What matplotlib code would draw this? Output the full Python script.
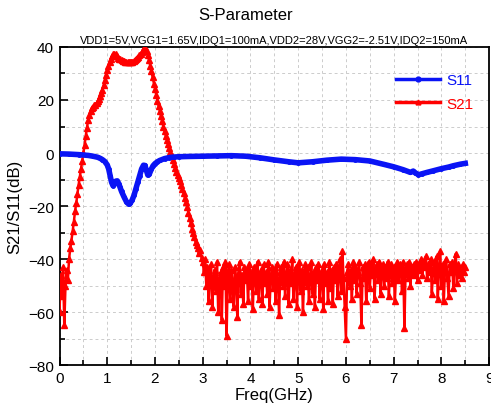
import matplotlib
matplotlib.use("Agg")
import matplotlib.pyplot as plt
import numpy as np
from matplotlib.lines import Line2D
from matplotlib.ticker import MultipleLocator

plt.rcParams["font.family"] = ["Liberation Sans", "DejaVu Sans"]

BLUE = "#0a14f5"
RED = "#ff0000"
GRID = "#cccccc"

TITLE = "S-Parameter"
SUBTITLE = "VDD1=5V,VGG1=1.65V,IDQ1=100mA,VDD2=28V,VGG2=-2.51V,IDQ2=150mA"

# S11: measured points (GHz, dB)
s11_freq = [0, 0.2, 0.4, 0.6, 0.7, 0.8, 0.85, 0.9, 0.95, 1.0, 1.03, 1.06, 1.09,
            1.12, 1.15, 1.18, 1.21, 1.24, 1.27, 1.3, 1.35, 1.4, 1.45, 1.48, 1.52,
            1.56, 1.6, 1.64, 1.68, 1.72, 1.76, 1.79, 1.82, 1.85, 1.88, 1.92, 1.96,
            2.0, 2.05, 2.1, 2.2, 2.3, 2.4, 2.5, 2.7, 3.0, 3.3, 3.6, 3.9, 4.2, 4.5,
            4.8, 5.0, 5.3, 5.6, 5.9, 6.2, 6.5, 6.8, 7.0, 7.2, 7.35, 7.41, 7.45,
            7.52, 7.6, 7.7, 7.83, 8.0, 8.15, 8.25, 8.4, 8.5]
s11_db = [-0.3, -0.4, -0.6, -0.9, -1.2, -1.6, -2.0, -2.5, -3.2, -4.5, -6, -8.5, -11,
          -12.3, -11.8, -10.6, -10.5, -11.5, -13, -14.5, -16.5, -18.3, -19.3, -19, -17.8,
          -16, -13.5, -11, -8.5, -6, -4.6, -4.7, -6.5, -8.3, -8, -6.2, -4.8,
          -4, -3.3, -2.8, -2.1, -1.7, -1.5, -1.4, -1.3, -1.2, -1.1, -1.0, -1.2, -1.8, -2.6,
          -3.3, -3.7, -3.3, -2.7, -2.3, -2.5, -3.0, -4.3, -5.2, -6.3, -7.3, -6.8, -7.4,
          -8.2, -7.8, -7.3, -6.7, -5.9, -5.3, -4.8, -4.2, -3.9]

# S21: sampled every 0.025 GHz from 0 GHz
S21_STEP = 0.025
s21_low = [-60, -46, -54, -43, -65, -50, -44, -48]                 # 0.000 - 0.175
s21_band = [                                                          # 0.200 - 2.975
    -40, -36, -33, -29.5, -26, -22, -19, -15.5, -12, -9, -6, -3,
    0, 3, 6.5, 9.5, 12.5, 14.5, 16, 17, 17.5, 18, 18.3, 18.8,
    19.5, 20.5, 21.5, 22.5, 23.8, 25.5, 27.5, 29.5, 31.3, 33, 34.5, 35.6,
    36.5, 37.2, 37.5, 37.2, 36.6, 36, 35.6, 35.3, 35, 34.8, 34.6, 34.5,
    34.4, 34.3, 34.3, 34.3, 34.4, 34.5, 34.7, 35, 35.4, 35.8, 36.3, 36.8,
    37.4, 38.1, 38.8, 39.5, 39.6, 38.5, 37, 35, 33, 30.8, 28.5, 26.2,
    24, 21.8, 19.7, 17.8, 16, 14, 12, 10, 8.2, 6.5, 5, 3.4,
    2, 0.4, -1, -2.5, -4, -5.5, -7, -8.3, -9.5, -10.6, -12, -13.6,
    -15.2, -16.8, -18.6, -20.4, -22.5, -24.5, -26.5, -28.5, -30.3, -31.8, -33.5, -34.6,
    -36, -37.8, -36.5, -39.5,
]
s21_high = [                                                          # 3.000 - 8.500
    -41, -45, -40, -50, -43, -56, -46, -42, -58, -47,
    -44, -52, -41, -60, -48, -45, -63, -43, -50, -41,
    -69, -46, -42, -55, -44, -49, -58, -43, -47, -62,
    -45, -41, -53, -46, -57, -43, -48, -44, -56, -42,
    -50, -45, -59, -43, -47, -52, -41, -55, -46, -44,
    -57, -42, -49, -45, -53, -41, -58, -47, -43, -51,
    -44, -56, -42, -48, -61, -45, -43, -50, -41, -54,
    -46, -42, -57, -44, -49, -40, -55, -47, -43, -58,
    -45, -41, -52, -44, -60, -46, -42, -50, -43, -56,
    -47, -41, -53, -45, -58, -43, -48, -42, -55, -46,
    -44, -59, -42, -49, -45, -56, -41, -51, -44, -57,
    -43, -48, -42, -54, -46, -40, -52, -37, -47, -58,
    -70, -45, -42, -50, -44, -55, -41, -48, -43, -53,
    -45, -41, -49, -65, -43, -47, -42, -56, -44, -41,
    -51, -43, -46, -40, -55, -44, -42, -48, -41, -53,
    -45, -42, -50, -43, -47, -41, -54, -44, -42, -49,
    -43, -56, -45, -41, -48, -42, -44, -52, -41, -66,
    -44, -42, -47, -41, -50, -43, -46, -42, -45, -41,
    -48, -42, -44, -40, -46, -41, -43, -39, -47, -42,
    -45, -40, -53, -44, -41, -48, -39, -55, -43, -37,
    -50, -42, -56, -44, -40, -47, -54, -42, -45, -41,
    -51, -43, -38, -49, -42, -46, -44, -47, -42, -45,
    -43,
]
s21_db = s21_low + s21_band + s21_high
s21_freq = np.arange(len(s21_db)) * S21_STEP

fig = plt.figure(figsize=(4.91, 4.10), dpi=100)
ax = fig.add_axes([0.1212, 0.107, 0.875, 0.776])

ax.plot(s21_freq, s21_db, color=RED, lw=1.8, marker="^", ms=4,
        mec=RED, mfc=RED, zorder=3)
ax.plot(s11_freq, s11_db, color=BLUE, lw=4, marker="o", ms=2.5,
        mec=BLUE, mfc=BLUE, zorder=4)

ax.set_xlim(0, 9)
ax.set_ylim(-80, 40)
ax.xaxis.set_major_locator(MultipleLocator(1))
ax.xaxis.set_minor_locator(MultipleLocator(0.5))
ax.yaxis.set_major_locator(MultipleLocator(20))
ax.yaxis.set_minor_locator(MultipleLocator(10))
ax.grid(True, which="both", color=GRID, ls=(0, (3, 3)), lw=0.7, zorder=0)
ax.tick_params(which="both", direction="in", top=False, right=False,
               labelsize=11, width=1.2)
ax.tick_params(which="major", length=6, pad=4)
ax.tick_params(which="minor", length=3.5)
for sp in ax.spines.values():
    sp.set_linewidth(1.3)

ax.set_xlabel("Freq(GHz)", fontsize=12, labelpad=2)
ax.set_ylabel("S21/S11(dB)", fontsize=12, labelpad=4)

fig.text(0.5, 0.963, TITLE, ha="center", va="center", fontsize=12)
ax.set_title(SUBTITLE, fontsize=8, pad=3)

handles = [
    Line2D([], [], color=BLUE, lw=2.5, marker="o", ms=3.5),
    Line2D([], [], color=RED, lw=2.5, marker="^", ms=3.5),
]
leg = ax.legend(handles, ["S11", "S21"], loc="upper right",
                bbox_to_anchor=(0.995, 0.96), frameon=False, fontsize=11,
                handlelength=2.9, labelspacing=0.6, handletextpad=0.4)
for txt, h in zip(leg.get_texts(), handles):
    txt.set_color(h.get_color())

fig.savefig("out.png", dpi=100)
